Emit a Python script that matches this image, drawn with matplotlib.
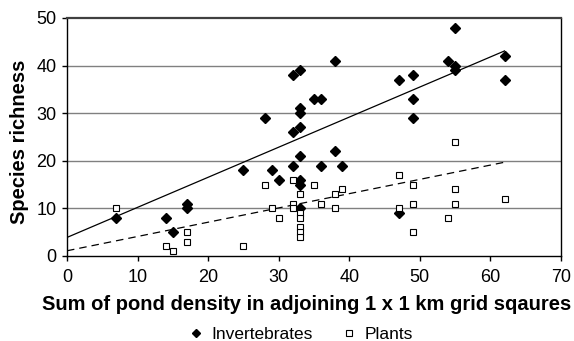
import numpy as np
import matplotlib
matplotlib.use('Agg')
import matplotlib.pyplot as plt

plt.rcParams['font.family'] = ['Liberation Sans', 'DejaVu Sans']

# Invertebrates (pond density, species richness)
inv_x = [7, 14, 15, 17, 17, 25, 28, 29, 30, 32, 32, 32, 33, 33, 33, 33, 33, 33, 33, 33,
         35, 36, 36, 38, 38, 39, 47, 47, 49, 49, 49, 54, 55, 55, 55, 62, 62]
inv_y = [8, 8, 5, 11, 10, 18, 29, 18, 16, 38, 26, 19, 39, 31, 30, 27, 21, 16, 15, 10,
         33, 33, 19, 41, 22, 19, 37, 9, 38, 33, 29, 41, 48, 40, 39, 42, 37]

# Plants
pl_x = [7, 14, 15, 17, 17, 25, 28, 29, 30, 32, 32, 32, 33, 33, 33, 33, 33, 33,
        35, 36, 38, 38, 39, 47, 47, 49, 49, 49, 54, 55, 55, 55, 62]
pl_y = [10, 2, 1, 5, 3, 2, 15, 10, 8, 16, 11, 10, 13, 9, 8, 6, 5, 4,
        15, 11, 13, 10, 14, 17, 10, 15, 11, 5, 8, 24, 14, 11, 12]

# trend lines (intercept, slope) over x = 0..62
inv_fit = (3.9, 0.632)
pl_fit = (1.1, 0.30)
fit_x = [0, 62]

fig = plt.figure(figsize=(5.74, 3.41), dpi=100)
ax = fig.add_axes([67/574, 1 - 256/341, (561-67)/574, (256-18)/341])

ax.set_xlim(0, 70)
ax.set_ylim(0, 50)
ax.set_xticks(range(0, 71, 10))
ax.set_yticks(range(0, 51, 10))
for yv in range(10, 50, 10):
    ax.axhline(yv, color='#808080', lw=1.0, zorder=0)

fx = np.array(fit_x)
ax.plot(fx, inv_fit[0] + inv_fit[1] * fx, color='black', lw=0.9, zorder=2)
ax.plot(fx, pl_fit[0] + pl_fit[1] * fx, color='black', lw=0.9, ls=(0, (6, 4)), zorder=2)

ax.plot(inv_x, inv_y, 'D', color='black', ms=5.2, ls='none', zorder=3, label='Invertebrates')
ax.plot(pl_x, pl_y, 's', mfc='white', mec='black', mew=0.8, ms=4.8, ls='none', zorder=3, label='Plants')

for s in ['left', 'bottom', 'right']:
    ax.spines[s].set_color('black')
    ax.spines[s].set_linewidth(1.0)
ax.spines['top'].set_color('#404040')
ax.spines['top'].set_linewidth(1.6)
ax.tick_params(direction='out', length=3.5, width=1, labelsize=13)
ax.tick_params(axis='x', pad=6)
ax.tick_params(axis='y', pad=4)

ax.set_xlabel('Sum of pond density in adjoining 1 x 1 km grid sqaures',
              fontsize=14.5, fontweight='bold', va='center')
ax.xaxis.set_label_coords((307-67)/494, (256-304)/238)
ax.set_ylabel('Species richness', fontsize=14.5, fontweight='bold', va='center')
ax.yaxis.set_label_coords((20-67)/494, (256-142)/238)

leg = fig.legend(loc='center', bbox_to_anchor=(300/574, 1 - 334/341), ncol=2, frameon=False,
                 fontsize=12.5, handletextpad=0.4, columnspacing=1.6, handlelength=1.0,
                 borderpad=0)
# smaller symbols in the legend than on the plot
for h, ms in zip(leg.legend_handles, [3.8, 4.2]):
    h.set_markersize(ms)

fig.savefig('out.png', dpi=100)
